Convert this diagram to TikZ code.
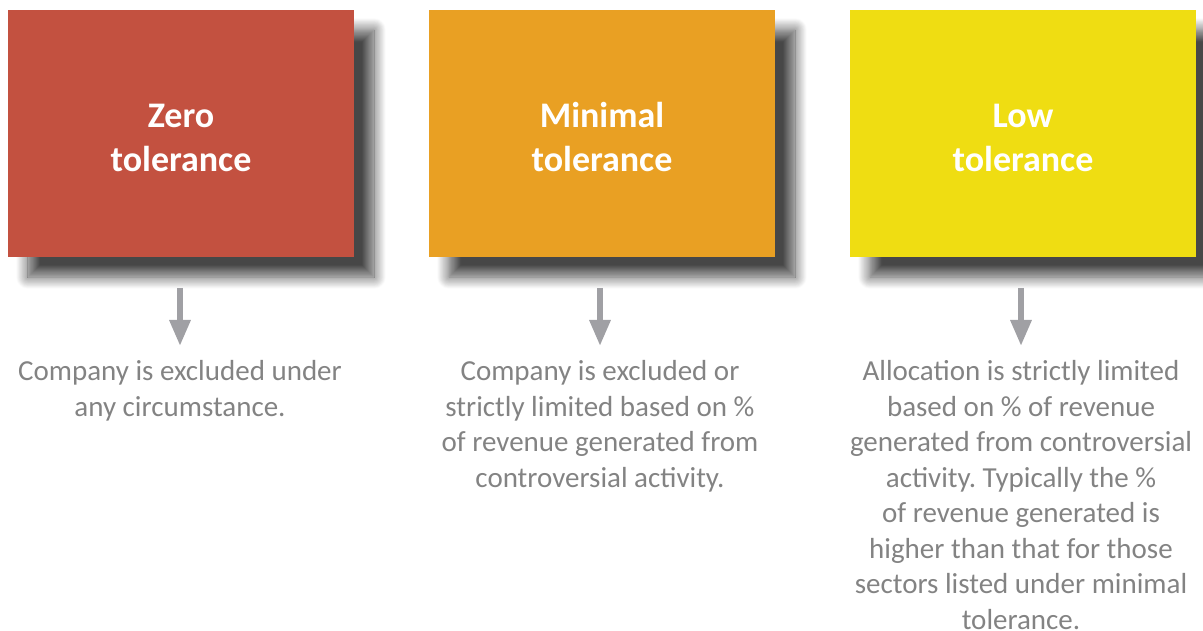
\documentclass[tikz,border=0pt]{standalone}
\usepackage{fontspec}
\setmainfont{Carlito}
\frenchspacing
\usetikzlibrary{arrows.meta,shadows.blur}
\definecolor{zerored}{HTML}{C35140}
\definecolor{minorange}{HTML}{E9A023}
\definecolor{lowyellow}{HTML}{EFDD12}
\definecolor{bodygray}{HTML}{838383}
\definecolor{arrowgray}{HTML}{A0A0A4}
\tikzset{
  tolbox/.style={rectangle, minimum width=346pt, minimum height=247pt, inner sep=0pt,
    blur shadow={shadow xshift=20pt, shadow yshift=-20pt, shadow blur radius=12pt,
      shadow blur steps=16, shadow opacity=72}},
  title/.style={inner sep=0pt, text=white, align=center,
    font=\bfseries\fontsize{36}{44}\selectfont},
  desc/.style={anchor=north, inner sep=0pt, align=center, text=bodygray,
    font=\fontsize{29}{35.5}\selectfont},
  downarrow/.style={draw=arrowgray, line width=6pt,
    -{Triangle[width=20pt,length=26pt]}}
}
\begin{document}
\begin{tikzpicture}[x=1pt,y=-1pt]
  \useasboundingbox (0,0) rectangle (1203,631);
  % the three tolerance levels
  \node[tolbox, fill=zerored]   (zero) at (181,133.5)  {};
  \node[tolbox, fill=minorange] (mini) at (602,133.5)  {};
  \node[tolbox, fill=lowyellow] (low)  at (1023,133.5) {};
  \node[title] (zerottl) at ([yshift=-4pt]zero.center) {Zero\\tolerance};
  \node[title] (minittl) at ([yshift=-4pt]mini.center) {Minimal\\tolerance};
  \node[title] (lowttl)  at ([yshift=-4pt]low.center)  {Low\\tolerance};
  % descriptions under each level
  \node[desc] (zerotxt) at (180,360.5) {Company is excluded under\\any circumstance.};
  \node[desc] (minitxt) at (600,360.5) {Company is excluded or\\strictly limited based on \%\\of revenue generated from\\controversial activity.};
  \node[desc] (lowtxt) at (1021,360.5) {Allocation is strictly limited\\based on \% of revenue\\generated from controversial\\activity. Typically the \%\\of revenue generated is\\higher than that for those\\sectors listed under minimal\\tolerance.};
  % arrows from each box down to its description
  \coordinate (za) at (180,288); \coordinate (zb) at (180,346);
  \coordinate (ma) at (600,288); \coordinate (mb) at (600,346);
  \coordinate (la) at (1021,288); \coordinate (lb) at (1021,346);
  \draw[downarrow] (za) -- (zb);
  \draw[downarrow] (ma) -- (mb);
  \draw[downarrow] (la) -- (lb);
\end{tikzpicture}
\end{document}
